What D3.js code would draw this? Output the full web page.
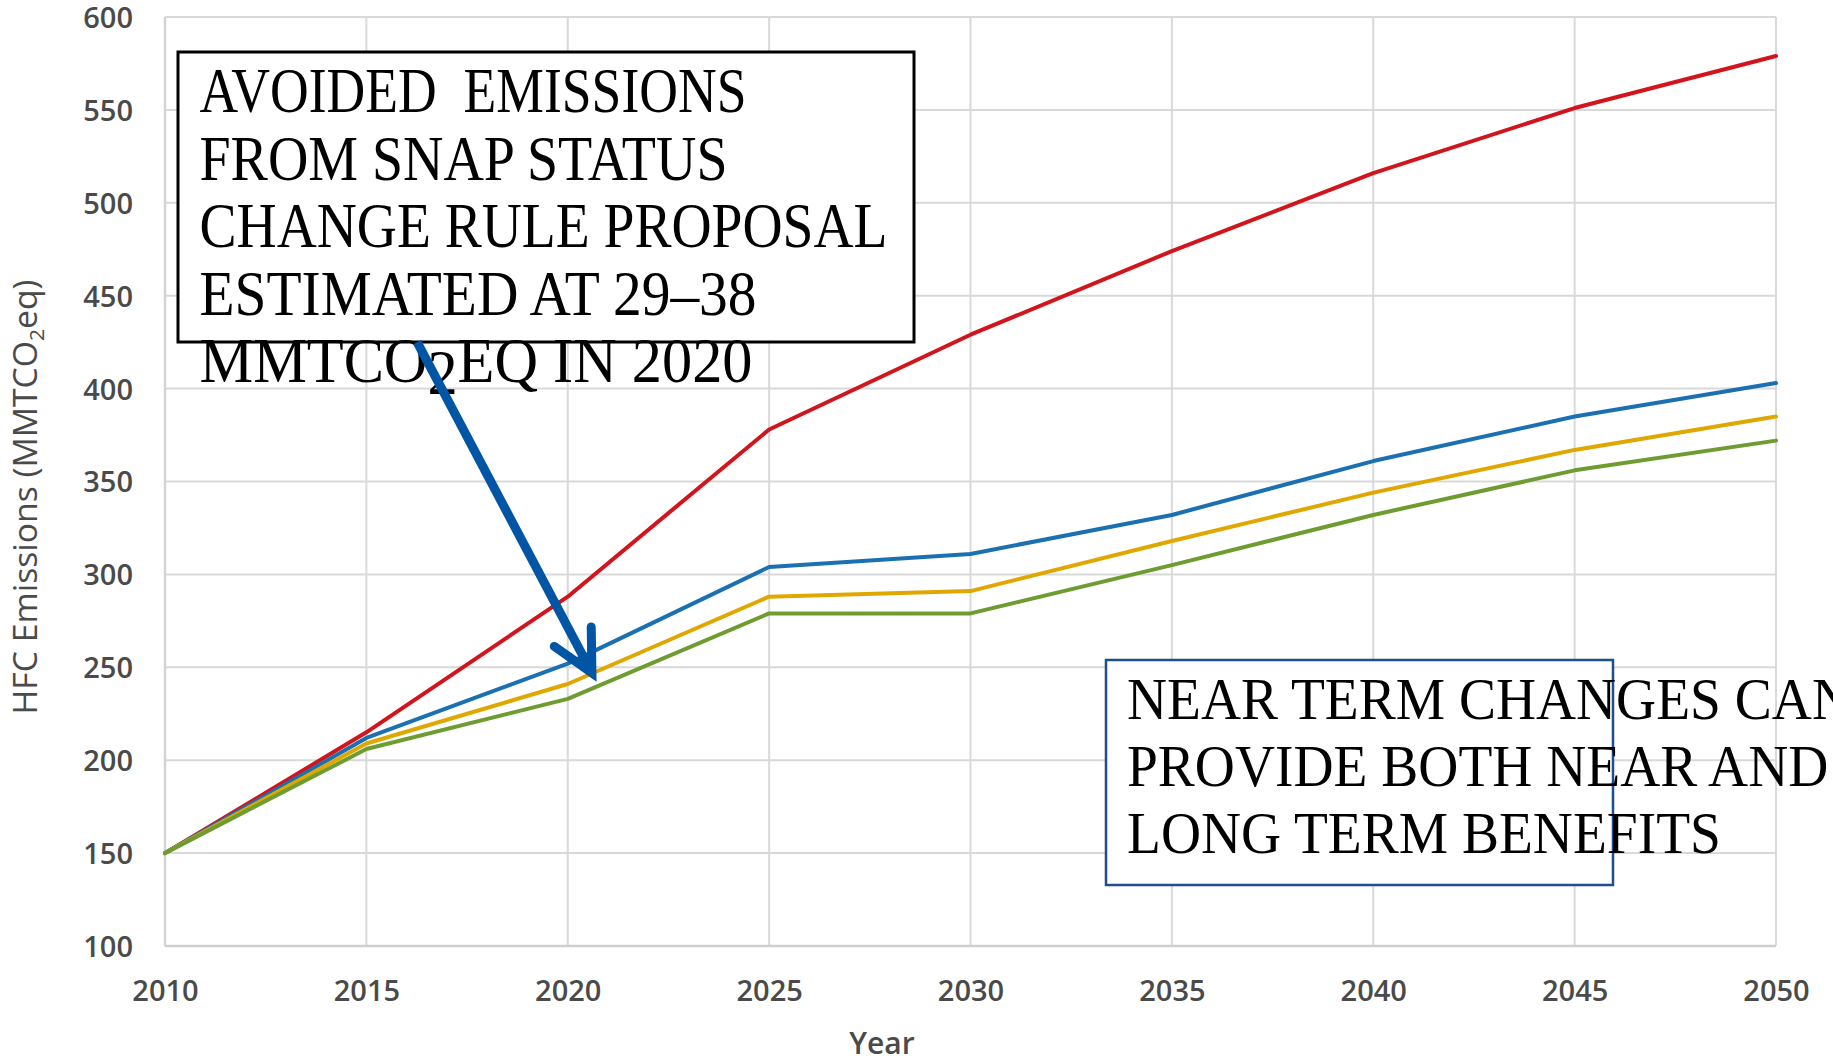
<!DOCTYPE html>
<html>
<head>
<meta charset="utf-8">
<script src="https://cdn.jsdelivr.net/npm/d3@7"></script>
<style>
  html, body { margin: 0; padding: 0; background: #ffffff; }
  svg { display: block; }
</style>
</head>
<body>
<svg id="chart" width="1833" height="1061"></svg>
<script>
// ---- data ----
const years = [2010, 2015, 2020, 2025, 2030, 2035, 2040, 2045, 2050];
const seriesRed    = [150, 215, 288, 378, 429, 474, 516, 551, 579];
const seriesBlue   = [150, 212, 252, 304, 311, 332, 361, 385, 403];
const seriesYellow = [150, 209, 241, 288, 291, 318, 344, 367, 385];
const seriesGreen  = [150, 206, 233, 279, 279, 305, 332, 356, 372];
const yTicks = [100, 150, 200, 250, 300, 350, 400, 450, 500, 550, 600];
const xTicks = [2010, 2015, 2020, 2025, 2030, 2035, 2040, 2045, 2050];
const note1Lines = ["AVOIDED  EMISSIONS", "FROM SNAP STATUS", "CHANGE RULE PROPOSAL", "ESTIMATED AT 29\u201338"];
const note2Lines = ["NEAR TERM CHANGES CAN", "PROVIDE BOTH NEAR AND", "LONG TERM BENEFITS"];
const arrowFrom = [2016.26, 425];
const arrowTo = [2020.6, 247];

// ---- layout ----
const plot = { left: 165, right: 1776, top: 17, bottom: 946 };
const svg = d3.select("#chart");

const x = d3.scaleLinear().domain([2010, 2050]).range([plot.left, plot.right]);
const y = d3.scaleLinear().domain([100, 600]).range([plot.bottom, plot.top]);

const gridColor = "#d9d9d9";
const labelFont = "'Open Sans', 'Noto Sans', sans-serif";
const labelColor = "#4a4a4a";

// grid
const grid = svg.append("g");
grid.selectAll("line.h").data(yTicks).join("line")
  .attr("x1", plot.left).attr("x2", plot.right)
  .attr("y1", d => y(d)).attr("y2", d => y(d))
  .attr("stroke", gridColor).attr("stroke-width", 2);
grid.selectAll("line.v").data(xTicks).join("line")
  .attr("x1", d => x(d)).attr("x2", d => x(d))
  .attr("y1", plot.top).attr("y2", plot.bottom)
  .attr("stroke", gridColor).attr("stroke-width", 2);
svg.append("line").attr("x1", plot.left).attr("x2", plot.right)
  .attr("y1", plot.bottom).attr("y2", plot.bottom)
  .attr("stroke", "#cfcfcf").attr("stroke-width", 2.5);
svg.append("line").attr("x1", plot.left).attr("x2", plot.left)
  .attr("y1", plot.top).attr("y2", plot.bottom)
  .attr("stroke", "#d4d4d4").attr("stroke-width", 2.5);

// axes
const yAxis = svg.append("g").attr("transform", `translate(${plot.left},0)`)
  .call(d3.axisLeft(y).tickValues(yTicks).tickSize(0).tickPadding(32).tickFormat(d3.format("d")));
const xAxis = svg.append("g").attr("transform", `translate(0,${plot.bottom})`)
  .call(d3.axisBottom(x).tickValues(xTicks).tickSize(0).tickPadding(34).tickFormat(d3.format("d")));
[yAxis, xAxis].forEach(g => {
  g.select(".domain").remove();
  g.selectAll("text").attr("font-family", labelFont).attr("font-size", 29)
    .attr("font-weight", 600).attr("fill", labelColor);
});
yAxis.selectAll("text").attr("dy", "0.36em");

// axis titles
svg.append("text").attr("x", 882).attr("y", 1054)
  .attr("text-anchor", "middle").attr("font-family", labelFont)
  .attr("font-size", 30).attr("font-weight", 600).attr("fill", labelColor).text("Year");
const yt = svg.append("text")
  .attr("transform", "translate(37,497) rotate(-90)")
  .attr("text-anchor", "middle").attr("font-family", labelFont)
  .attr("font-size", 32).attr("font-weight", 500).attr("fill", labelColor);
yt.append("tspan").text("HFC Emissions (MMTCO");
yt.append("tspan").attr("font-size", 20).attr("dy", 7).text("2");
yt.append("tspan").attr("dy", -7).text("eq)");
yt.attr("textLength", 435).attr("lengthAdjust", "spacingAndGlyphs");

// series lines
const seriesList = [
  { values: seriesRed, color: "#d2141c" },
  { values: seriesBlue, color: "#1a70b0" },
  { values: seriesYellow, color: "#e0a700" },
  { values: seriesGreen, color: "#6f9c30" }
];
const line = d3.line().x((d, i) => x(years[i])).y(d => y(d));
svg.append("g").selectAll("path").data(seriesList).join("path")
  .attr("d", d => line(d.values))
  .attr("fill", "none").attr("stroke", d => d.color)
  .attr("stroke-width", 4).attr("stroke-linejoin", "round").attr("stroke-linecap", "round");

// ---- annotation box 1 ----
const serif = "'Liberation Serif', 'DejaVu Serif', serif";
svg.append("rect").attr("x", 178).attr("y", 52).attr("width", 736).attr("height", 290)
  .attr("fill", "#ffffff").attr("stroke", "#000000").attr("stroke-width", 3);

const n1 = svg.append("g").attr("font-family", serif).attr("font-size", 63).attr("fill", "#000");
const n1Base = [112, 179.5, 247, 314.5];
const n1Widths = [547, 528, 688, 557];
note1Lines.forEach((t, i) => {
  n1.append("text").attr("x", 199.5).attr("y", n1Base[i])
    .attr("xml:space", "preserve").style("white-space", "pre")
    .attr("textLength", n1Widths[i]).attr("lengthAdjust", "spacingAndGlyphs").text(t);
});
const l5 = n1.append("text").attr("x", 199.5).attr("y", 382)
  .attr("textLength", 553).attr("lengthAdjust", "spacingAndGlyphs");
l5.append("tspan").text("MMTCO");
l5.append("tspan").attr("dy", 12).text("2");
l5.append("tspan").attr("dy", -12).text("EQ IN 2020");

// arrow
const ax0 = x(arrowFrom[0]), ay0 = y(arrowFrom[1]);
const ax1 = x(arrowTo[0]), ay1 = y(arrowTo[1]);
const ang = Math.atan2(ay0 - ay1, ax0 - ax1);
const headLen = 46, headAng = 27 * Math.PI / 180;
const arrowColor = "#0055a4";
svg.append("line").attr("x1", ax0).attr("y1", ay0).attr("x2", ax1).attr("y2", ay1)
  .attr("stroke", arrowColor).attr("stroke-width", 9);
svg.append("polyline")
  .attr("points", [
    [ax1 + headLen * Math.cos(ang + headAng), ay1 + headLen * Math.sin(ang + headAng)],
    [ax1, ay1],
    [ax1 + headLen * Math.cos(ang - headAng), ay1 + headLen * Math.sin(ang - headAng)]
  ].map(p => p.join(",")).join(" "))
  .attr("fill", "none").attr("stroke", arrowColor).attr("stroke-width", 9)
  .attr("stroke-linecap", "round").attr("stroke-linejoin", "miter");

// ---- annotation box 2 ----
svg.append("rect").attr("x", 1106).attr("y", 660).attr("width", 507).attr("height", 225)
  .attr("fill", "#ffffff").attr("stroke", "#1f4e8c").attr("stroke-width", 2.5);
const n2 = svg.append("g").attr("font-family", serif).attr("font-size", 60).attr("fill", "#000");
const n2Base = [719, 786, 853.5];
note2Lines.forEach((t, i) => {
  n2.append("text").attr("class", "n2").attr("x", 0).attr("y", n2Base[i]).text(t);
});
const refW2 = n2.selectAll("text.n2").nodes()[2].getComputedTextLength();
const sx2 = 594 / refW2;
n2.attr("transform", `translate(1127,0) scale(${sx2},1)`);
</script>
</body>
</html>
